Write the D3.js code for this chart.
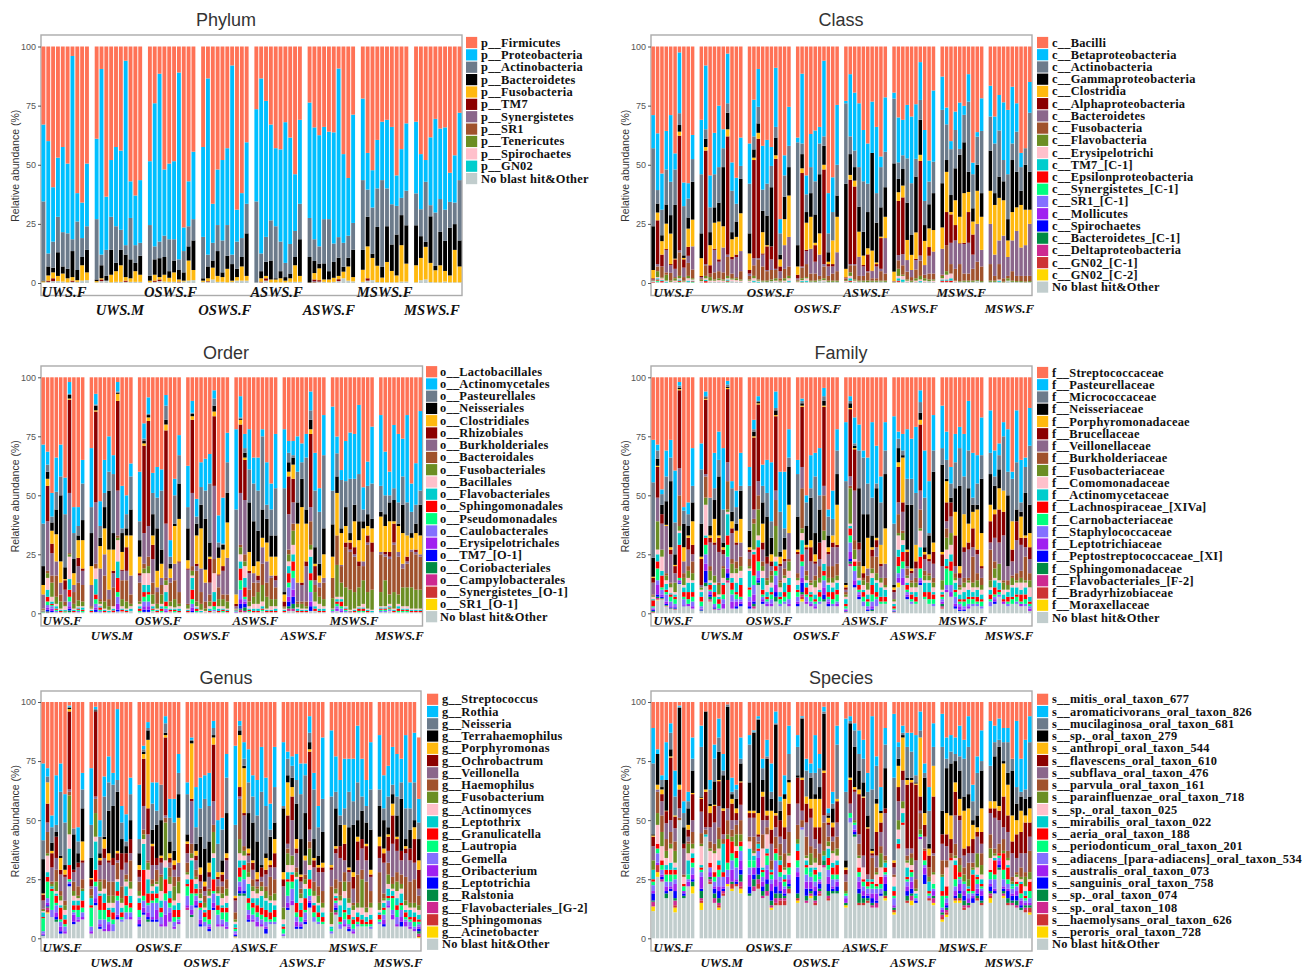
<!DOCTYPE html>
<html><head><meta charset="utf-8"><script src="https://cdn.jsdelivr.net/npm/d3@7"></script>
<style>html,body{margin:0;padding:0;background:#fff}svg{display:block}</style></head><body>
<svg id="chart" width="1314" height="970"></svg>
<script>
// Every row is one sample: the upper edge (%) of each legend band, read top-down off the y axis.
const palette=["#FF7256","#00BFFF","#6C7B8B","#000000","#FFB90F","#8B0000","#8B668B","#A0522D","#6B8E23","#FFC0CB","#00CDCD","#FF0000","#00FF7F","#8470FF","#A020F0","#0000FF","#008B45","#CD2990","#CD3333","#FFD700","#C1CDCD"];
const phylumPalette=["#FF7256","#00BFFF","#6C7B8B","#000000","#FFB90F","#8B0000","#8B668B","#A0522D","#6B8E23","#FFC0CB","#00CDCD","#C1CDCD"];
const groupNames=["UWS.F","UWS.M","OSWS.F","OSWS.F","ASWS.F","ASWS.F","MSWS.F","MSWS.F"];
const yTicks=[0,25,50,75,100];
const phylumLegend=["p__Firmicutes","p__Proteobacteria","p__Actinobacteria","p__Bacteroidetes","p__Fusobacteria","p__TM7","p__Synergistetes","p__SR1","p__Tenericutes","p__Spirochaetes","p__GN02","No blast hit&Other"];
const classLegend=["c__Bacilli","c__Betaproteobacteria","c__Actinobacteria","c__Gammaproteobacteria","c__Clostridia","c__Alphaproteobacteria","c__Bacteroidetes","c__Fusobacteria","c__Flavobacteria","c__Erysipelotrichi","c__TM7_[C-1]","c__Epsilonproteobacteria","c__Synergistetes_[C-1]","c__SR1_[C-1]","c__Mollicutes","c__Spirochaetes","c__Bacteroidetes_[C-1]","c__Deltaproteobacteria","c__GN02_[C-1]","c__GN02_[C-2]","No blast hit&Other"];
const orderLegend=["o__Lactobacillales","o__Actinomycetales","o__Pasteurellales","o__Neisseriales","o__Clostridiales","o__Rhizobiales","o__Burkholderiales","o__Bacteroidales","o__Fusobacteriales","o__Bacillales","o__Flavobacteriales","o__Sphingomonadales","o__Pseudomonadales","o__Caulobacterales","o__Erysipelotrichales","o__TM7_[O-1]","o__Coriobacteriales","o__Campylobacterales","o__Synergistetes_[O-1]","o__SR1_[O-1]","No blast hit&Other"];
const familyLegend=["f__Streptococcaceae","f__Pasteurellaceae","f__Micrococcaceae","f__Neisseriaceae","f__Porphyromonadaceae","f__Brucellaceae","f__Veillonellaceae","f__Burkholderiaceae","f__Fusobacteriaceae","f__Comomonadaceae","f__Actinomycetaceae","f__Lachnospiraceae_[XIVa]","f__Carnobacteriaceae","f__Staphylococcaceae","f__Leptotrichiaceae","f__Peptostreptococcaceae_[XI]","f__Sphingomonadaceae","f__Flavobacteriales_[F-2]","f__Bradyrhizobiaceae","f__Moraxellaceae","No blast hit&Other"];
const genusLegend=["g__Streptococcus","g__Rothia","g__Neisseria","g__Terrahaemophilus","g__Porphyromonas","g__Ochrobactrum","g__Veillonella","g__Haemophilus","g__Fusobacterium","g__Actinomyces","g__Leptothrix","g__Granulicatella","g__Lautropia","g__Gemella","g__Oribacterium","g__Leptotrichia","g__Ralstonia","g__Flavobacteriales_[G-2]","g__Sphingomonas","g__Acinetobacter","No blast hit&Other"];
const speciesLegend=["s__mitis_oral_taxon_677","s__aromaticivorans_oral_taxon_826","s__mucilaginosa_oral_taxon_681","s__sp._oral_taxon_279","s__anthropi_oral_taxon_544","s__flavescens_oral_taxon_610","s__subflava_oral_taxon_476","s__parvula_oral_taxon_161","s__parainfluenzae_oral_taxon_718","s__sp._oral_taxon_025","s__mirabilis_oral_taxon_022","s__aeria_oral_taxon_188","s__periodonticum_oral_taxon_201","s__adiacens_[para-adiacens]_oral_taxon_534","s__australis_oral_taxon_073","s__sanguinis_oral_taxon_758","s__sp._oral_taxon_074","s__sp._oral_taxon_108","s__haemolysans_oral_taxon_626","s__peroris_oral_taxon_728","No blast hit&Other"];

const phylumG1=[[100,67,34.5,1,.7,.3],[100,60,12.5,7,3.2,1,.5],[100,40.5,17.5,6.5,4.5,2,.8],[100,53,28,13,3,.8],[100,57.5,21.5,7,4,.6],[100,50.5,21,6,2,.3],[100,96,18.5,13.5,2.5,1,.5],[100,38,26,5.5,1.2,.5],[100,34,19,11,7.5,1],[100,50.5,24,14,4.5,1.2]];
const phylumG2=[[100,61,27,1.5,.8,.3],[100,90.5,12,7.5,2,1.5,.8],[100,36.5,14,3,1,1],[100,52,28,14,3.5,.3],[100,57.5,24,8.5,5,.5],[100,56,22.5,14,7.5,.5],[100,94,16,12,2.5,1,.5],[100,43,27.5,10,2,.5],[100,37,16,8.5,5,.5],[100,43.5,17,11.5,3.5,.5]];
const phylumG3=[[100,51.5,24.5,3,1,.3],[100,76,15.5,10,3.5,1,.5],[100,88.5,17.5,10.5,2.5,1.5,.8],[100,48,20,11,3.5,.6],[100,50.5,18.5,5,2.2,.5],[100,51.5,18.5,9.5,4.5,.5],[100,89,10,5.5,1.5,.6,.3],[100,23.5,13.5,4.5,1,.6],[100,43,24,15.5,9.5,1],[100,55.5,27,18,5.5,1.2]];
const phylumG4=[[100,57.5,19.5,2,1,.5],[100,86.5,12,7,2,.8,.6,.5,.4],[100,33.5,17,9.5,6.5,1.5],[100,48,24.5,13.5,3,.5],[100,52,18,4.5,2.5,.5],[100,57,24.5,11.5,6,.3],[100,92,12,8,1,.5],[100,31,17.5,6,2.5,1],[100,38,19,11,7,1],[100,59.5,33.5,21,3,1]];
const phylumG5=[[100,73.5,34.5,.2],[100,86.5,12.5,5,2,.6,.3],[100,77,19.5,9,3,2,1],[100,67,26.5,9.5,1.5,.3],[100,57,24,2,1.5,.3],[100,56.5,17.5,5,2,.3],[100,68,8.5,2.5,1,.3],[100,61.5,16.5,4,2,.5],[100,46,22,11,7.5,.5],[100,69,33.5,18.5,3,.5]];
const phylumG6=[[100,76.3,27.5,11,.2,.1],[100,65.8,18.5,9.3,4.2,1.5,.8,.4,.2,.1,.1],[100,62.5,15.5,8.2,6.2,1.2,.6],[100,66,27,8.3,1.5,.5],[100,64,27,5,1.5,.3],[100,63.7,16.7,8.9,2.2,.5],[100,90.7,19.4,10.7,3,1.6,.8],[100,54.5,17,6.9,4.8,2],[100,44.4,20,10.7,7,1],[100,71.2,25.4,14.1,2.5,.7]];
const phylumG7=[[100,78,43.5,14,5.6,.5],[100,55,39.5,28,15.5,2,1],[100,47.7,31.9,12.4,10.6,1.2],[100,60.5,40,23.7,7.3,.4],[100,68.2,43.5,6.8,2.3,.3],[100,69,40,24,8.9,.3],[100,66,33.3,16.3,5.1,.3],[100,45.5,32.6,20.5,3.2,.3],[100,56.6,36,28.7,16,.6],[100,67.5,39,24.4,8.2,.6]];
const phylumG8=[[100,68.2,37.9,24.4,7.5,.3],[100,54.5,31.2,19.8,10.6,1.2],[100,52,42.8,17.4,15.3,1.5],[100,61.6,32.9,28.2,8.5,.4],[100,69.4,29.8,7.2,5.4,.3],[100,65.3,35.5,21.6,7.5,.3],[100,65.8,31,17.8,5.1,.6],[100,46.6,34.3,23.4,3.2,.3],[100,54,34,24.9,14,.3],[100,72,43.5,18,7,.3]];

const classG1=[[100,71,57,24,5.5,2,1.5,1.2,1,.8,.6,.4,.2],[100,63.3,39.3,33.6,29.8,26.5,8,7,5,2.5,2,1.5,1,.5],[100,46.3,31,20.2,17.7,12,7,6.8,2.3,2,1.2,.8,.3],[100,64.3,48,33.2,25.1,14.4,14,4.5,3.5,1,.6,.2],[100,71,42.8,28.7,20.9,8,7.5,4.3,1,.5,.2],[100,54.8,48,33,10.3,10,6,2.5,2,1,.4],[100,97.5,71.8,66.8,64,62.3,13.8,13,3,2,1.5,1,.5,.2],[100,42.5,32.5,11.7,10.6,10,6.5,2.5,1,.6,.2],[100,42.2,35.7,27.7,23,15.3,11.5,8.5,3,2,1,.5],[100,62.6,52.4,42.8,26.8,15.5,15.5,5.7,2,1.5,1,.7,.4,.2]];
const classG2=[[100,69,46,21,10.5,3,2.5,2,1.5,.8,.4],[100,92,65,61,57.5,56,8,7.5,3,2,1.4,.8,.2],[100,45.5,32,21.5,16,7.5,4,4,2.5,1,.5],[100,63.5,46,32,25.5,14.5,14,4.5,1.5,1,.5],[100,75,49,34,26,10,9,5,2,1.2,.5],[100,65,57,49,24,15,15,4.5,1.5,1,.4],[100,97,76,72,65,62,12,11,3,2,1.5,1,.6,.3],[100,51,39,21.5,18.5,11,10,4,2,1.5,.8],[100,44.5,33.5,26,19.5,12,11,2.5,2,1.2,.6],[100,61.5,49.5,44,29.5,13.5,13.5,5,1.5,1,.5]];
const classG3=[[100,59,42,21,12.5,5.5,4,3,1.5,1,.5],[100,77.5,62,56.5,53,52,10.5,7.5,3,2,1,.5],[100,90.5,74.5,67.5,63.5,61,10.5,10,1.5,1,.6,.2],[100,58,39.5,30.5,21.5,12.5,12,7,1,.6],[100,60.5,42,28.5,16,15.5,5.5,5,1,.5],[100,57.5,49.5,40.5,15.5,15.5,10,5.5,1.5,.8],[100,91,66,61.5,54,52.5,6,5.5,2,1,.5],[100,27,21,12,10,7,5,2,1,.6],[100,54,45.5,36.5,27,16,16,6,2,1,.5],[100,74.5,58,49,37,19.5,19.5,7,3,2,1,.5]];
const classG4=[[100,61.5,59.5,16,7,3.5,2,1.5,1,.6,.2],[100,88.5,59,54.5,48.5,46.5,7,6.5,2,1.2,.8,.4,.3,.2],[100,45.5,37.5,30,25.5,14,13.5,8,2.5,2,1,.5],[100,63,49,38,28,14.5,14.5,4,1,.6],[100,64.5,43,29,17,16,9,4,1,.5],[100,66,59,46,21,12,12,3,1.5,1],[100,94,62,58,50,48,8,7,2,1.2,.8],[100,38,21,13,9,8,7,3,1,.5],[100,44.7,30,18,18,8,7,4,1,.5],[100,75.3,50,37,28,13,13,5,1,.5]];
const classG5=[[100,77,76,42,6,2.4,2,1.8,1.2,.8,.4],[100,88.3,62,54.5,45.7,43.7,8,7.5,4.5,3,2,1,.5,.3],[100,80.5,56,49,43.3,40.8,8,7.5,1.5,1,.5],[100,76,49,32.3,21.7,11.1,11,3,1,.6],[100,64.7,43,21.7,11.6,7.6,7,3,1,.5],[100,59,42,30,14.7,12.1,5,4.5,1,.4],[100,76.7,55,55,13.7,5.2,5,2,1,.5],[100,66,38,25.5,8.7,8,7,2,1,.5],[100,53.5,49,32,19.6,19,6,5,1,.6],[100,78.5,55.5,40.5,28,19,19,4,1,.5]];
const classG6=[[100,80.5,78,50.6,4.8,.8,.7,.6,.5,.3],[100,70,51,44,38.4,34.7,11.8,9.6,6,3,2,1,.5],[100,69,54,48.2,41.2,36.2,12.2,7.5,3.5,3,1.5,.5],[100,75.3,52.7,34,18.2,9.7,9.7,4.8,1.5,1,.5],[100,70.4,42.2,20.3,11.9,5.5,5.5,2.5,1,.5],[100,75.6,52.5,45,21.4,10.2,9.7,5.7,2,1,.4],[100,93.4,77.4,69,54.2,51.6,11.6,9.5,3,1.5,.8,.3],[100,64.7,34.7,24.5,17.8,7.6,7.5,3.5,2,1,.5],[100,51.8,42.9,33.3,23.1,15.2,11.5,4,1.5,.8],[100,81.4,51.3,38,22.4,13.3,13.2,4,1.5,1,.5]];
const classG7=[[100,87.3,73.2,42.2,23.5,14.5,14.5,3.5,3,2,1.5,1,.5],[100,74.2,67.1,52,47,30,16,16,5,3.5,1.5,1,.5],[100,60,56.6,37.2,30,29,17,8,4,4,2,1,.4],[100,72.5,64.7,48.5,35,24.5,18,6,1,.8,.4],[100,76.3,56.7,54.2,28,16.8,16.5,8,.8,.5],[100,74.9,71.1,59.5,38,17,16.5,4,1,.5],[100,88.3,76.7,47,38.5,30,17,4,1,.5],[100,50.9,46,31.6,26,20.5,12,6,1,.5],[100,63.8,61.9,50,39,25,25,9,1.2,.8],[100,78.1,64.3,38,28,14,14,7,.8,.4]];
const classG8=[[100,83.4,70.4,56,39,25,25,8,1,.5],[100,70.4,59,38,33,12,12,3,1,.5],[100,79.5,64.5,45,36,18,18,8,1.5,1.5,1,.5],[100,76.4,52,43,35,20,20,2,.6,.3],[100,73.2,46,27,18,11,11,3,2,1],[100,83,59,52,30,18,18,5,1,.5],[100,76,64,47,32,22,22,3,.8,.4],[100,55,49,39,33,15,15,3,.8,.4],[100,57,57,50,31,16,16,3,.6,.3],[100,85,72,47,31,25,25,3,.8,.4]];

const orderG1=[[100,71.5,38,20,12,8,8,2,1.5,1.2,1,.8,.5,.3],[100,68.5,63,60,57,54,39,18,17,15,10,7,5,3.5,2.5,1.5,.8,.4,.2],[100,51,41,38.5,35,29.5,25.5,16,13,7,5,4,3.5,3,2,1,.5],[100,66,51.5,44,33.5,22,22,16,7,4,3,2,1.5,1,.5],[100,71.5,58,50,22,13,13,8,5,2,1.5,1,.5],[100,57.5,42,19.5,14.5,14,10,5,3.5,3,1.5,1,.8,.4],[100,98,93,92.5,91,90.5,51,25.5,25,24,14.5,10,7,5,3,2,1.2,.5],[100,45,34,23,17,12,12,9,4,2,1.5,1,.5],[100,45,37,33,31,23.5,20,13,5.5,3,2.5,2,1.5,1,.5],[100,65,55,39.5,31,19,18,12,5,3,2.5,1.5,1,.5]];
const orderG2=[[100,70,45,34,20,12,12,3,2.5,2,1.5,1,.5],[100,93,88.5,88,86,85.5,47,21,19,19,14.5,8,6,4,2.5,1.5,.6],[100,47.5,37,32,28.5,19,19,6,5,4,3,2.5,1.5,1,.5],[100,65,51,45,36,25,25,16,5,2,1.5,1,.5],[100,75,60,52,27,10,10,6,3,1.5,1,.5],[100,67,59,34,27,18,17,11,3,3,2,1.2,.5],[100,98,94,93.5,93,90,52,33,32,31,22,15,9,7,4,1.5,.8],[100,54,36,34,26,18.5,18,14,6,3,2,1.5,.8],[100,50,42,36,33,28,18,14,5,2,1.5,1,.5],[100,63.5,58,44,33,16,16,8,4,3,2,1]];
const orderG3=[[100,60,39,31,24,17,16,13,5,4,3,2,1,.5],[100,80.5,74,73,72,71,34,21,19,17,12,9,7,5,3,1.5,.6],[100,91.5,84.5,84,83,81.5,37,24,20,17,12,9,8,5,3,1.5,.6],[100,59.5,51,42,33,29,23,13,8,4,3,2,1.5,1],[100,62,49,36,18,11,11,9,4,2,1.5,1,.5],[100,61,52,27,21,15,15,12,8,4,3,2,1,.5],[100,92.5,88,82,80,77.5,38,15,14,12,9,5,3,2,1,.5],[100,31,24,21,19,15,15,13,5,3,2,1.5,.8],[100,57,50,38,37,21,21,14,6,2.5,2,1.5,1,.5],[100,75.5,67,55,40,22,21.5,9,4,3,2,1,.5]];
const orderG4=[[100,62.5,45,36,22.5,19,18.5,4,3.5,2,1.5,1,.5],[100,90,85,84.5,83.5,82,51,20,18,16,15,10,6,4,2.5,1,.5],[100,48.5,41,38,33,21,20,18,5,3,2.5,2,1,.5],[100,64,53.5,46,36,19,19,9,4,1.5,1,.5],[100,65.5,52,40,18.5,13,13,5,2,1,.5],[100,67.5,55,30,24,23,13,8,5,3,2,1,.5],[100,94.5,91,88,85.5,83.5,54,23,17,17,9,5,3,1.5,1],[100,41.5,30,28,23.5,16.5,16,11,6,3,2,1,.5],[100,49,29.5,29,27,20,18,8,6,3,2,1.5,1,.5],[100,76.5,64,51,38.5,23.5,23.5,8,5,2,1.5,1,.5]];
const orderG5=[[100,78,44,8,8,4,3,2,1.8,1.6,1.4,1.2,1,.8,.5,.3],[100,92,83,82.5,82,80,51,29,28,25,22,19,14,10,6,4,2,1.5,1,.5],[100,76,70,68,66,65,48,25,22,20,15,11,7,6,5,4,2.5,1,.5],[100,78,61,47,26,18,17,10,5,3,2,1.5,1,.5],[100,66,55,39,20,17,17,13,7,4,2,1,.5],[100,66,52,35,22,16,14,13,9,4,2,1,.5],[100,78,75,44,32,28,28,21,12,5,3,2,1.5,1],[100,64,46,40,30,22,22,13,7,2,1.5,1,.5],[100,55,44,33,24,16,16,15,6,3,1.5,1,.5],[100,76,53,33,24,16,14,11,6,3,2,1,.5]];
const orderG6=[[100,78,53,9,8,5,3,3,2.5,2,1.5,1,.5],[100,73,68,64,60,58,42,27,25,22,20,17,13,11,7,5,3,2,1],[100,73,67,66,63,57,47,38,35,29,25,22,18,15,10,7,4,2,1],[100,75,60,47,38,13,13,5,4,2.5,2,1,.5],[100,72,64,57,45,13,12,5,4,2,1.5,1,.5],[100,76,66,44,38,22,20,5,3,2,1.5,1,.5],[100,94,86,82,78,76,45,39,29,27,24,17,14,9,5,3,1],[100,68,52,28,21,20,14,12,9,5,3,2,1],[100,53,43,21,16,13,13,11,7,4,2,1,.5],[100,84,67,36,25,15,15,13,6,3,2,1,.5]];
const orderG7=[[100,87.6,52,37.7,24,15,15,15,6.4,2,1.8,1.6,1.4,1,.8,.5],[100,74.9,67.8,58,51,33,33,33,20.5,7,6,5,4,3,2,1],[100,60.7,56.5,36,34,20.5,20.5,20,13,7,6,5,3,2,1,.5],[100,73,56,45,37,30,28,28,11,3,2.5,2,1.5,1,.5],[100,76.6,57,34,31,30,27,26,10,1.5,1,.8,.5],[100,76,57,46,39,28,25,24,9,2,1.5,1,.5],[100,88.3,59,39,31,22,20,20,11,3,2.5,2,1,.5],[100,53.4,44,39,36,22,22,20,14,4,2.5,2,1,.5],[100,64.3,54,42,37,33,30,29,9,2,1.5,1,.5],[100,79.1,55,40,36,30,26,26,10,1.5,1,.5]];
const orderG8=[[100,84,54,43,41,26,26,25,9,3,2.5,2,1.5,1,.5],[100,68.5,50,42,37,26,25,24,14,3,2.5,2,1.5,1,.5],[100,60,50,47,39,26,24,23,8,4,3,2.5,2,1.5,1],[100,79.8,53,48,39,38,30,29,9,2,1.5,1,.5],[100,76,47,38,37,26,26,24,8,4,3,2,1,.5],[100,74,58,46,34,21,21,19,11,3,2,1.5,1,.5],[100,84,47,33,33,24,22,21,11,3,2,1.5,1,.5],[100,55,43,34,32,27,27,26,11,2,1.5,1,.5],[100,63.6,46,38,34,27,26,25,10,2,1.5,1,.5],[100,85.7,52,46,33,25,25,24,10,2,1.5,1,.5]];

const familyG1=[[100,73.5,55.5,23.5,15.5,15,13,8,7.5,7,6,5.5,3,2.5,2,1.5,1,.6,.4,.2,.1],[100,71.5,69,65.5,62.5,62,49,39,39,27,25,22,19,14,12,8,7,6.5,6,5.8,5.5],[100,52.5,50.5,46,42,42,38,27,27,24,18,16,11,10,8,7,6.5,6.2,6,5.9,5.8],[100,69,58,47.5,37.5,37,37,17,16,14,12.5,10,9,8,5,4,3.5,3.2,3,2.9,2.8],[100,73.5,66,56,28,27,25,13,12.5,11,8.5,8,7,5,3,2.5,2.2,2,1.9,1.8],[100,60.5,38.5,25,20.5,20,17,13,13,9,8,7,6,4,3,2.5,2,1.8,1.7,1.5],[100,98,96.5,95.5,95,94.5,61.5,50,37,35,34,29,15,14,14,13,12.5,12.5,12.5,12.5,12.5],[100,45,43.5,38,28,22,22,17,15,12,11,9,7,6,3.5,3.2,3,3,3,3],[100,47,42,37,33,32,27,20,18,15,13,9,6,4,4,3,3,3,3,3],[100,70,54,47,39,29,25,22,17,14,13,9,7,5,3,2,2,2,2,2,2]];
const familyG2=[[100,72,61,38,24,23,12,11,11,10,9,7,5,3,2,1.5,1.2,1,1,1,1],[100,94,92,91.5,91,90.5,59,58,49,46,33,32,29,25,21,18,13,11.5,11.5,11.5,11.5],[100,49,49,37,33,32,30,20,18,14,13,12,10,9.5,9,8,7,6,5.5,5,5],[100,68,53,48,40,30,29,16,16,13,12,9,7,4,3,2.5,2,1.8,1.6,1.5,1.5],[100,77,65,58,33,32,26,13,12,8,7,6,4,2,2,1.5,1.5,1.5,1.5,1.5],[100,70,44,30,28,27,25,20,19,15,13,12,8,6,4,2,2,2,2,2],[100,98.5,97,96,95.5,95,64,56,44,43,42,33,29,24,19,17,15,14,13,13,13],[100,56,53,43,39,36,34,23,21,17,15,13,10,8,5,2,2,2,2,2],[100,52,45,38,35,30,29,22,19,17,13,9,8,6,5,3,2,2,2,2],[100,68,54,52,40,30,30,24,20,18,15,12,7,6,5,4,3,3,3,3]];
const familyG3=[[100,62,54,35,28,27,26,23,20,19,18,11,10,7,5,3,2,2,2,2],[100,82,78,77,75,74.5,44,40,38,27,26,25,16,12,8,5,4,3,2,2,2],[100,92,90,89.5,89,88.5,56,50,44,33,31,28,22,18,15,14,13,12,12,12,12],[100,63,54,47,38,30,27,22,20,18,15,10,8,7,6,5,4,4,4,4],[100,65,51,41,24,24,21,15,14,12,9,7,6,5,4,3,3,3,3,3],[100,64,39,32,25,22,20,18,16,13,11,9,8,6,4,3,3,3,3,3],[100,94,87,86,84,83.5,52,48,37,24,22,20,18,16,12,9,7,5,5,5,5],[100,60,43,26,24,21,20,14,13,11,9,7,6,4,3,3,3,3,3,3],[100,60,36,32,27,23,22,19,16,15,13,9,7,5,4,4,4,4,4,4],[100,78,66,62,46,34,34,23,22,18,15,12,9,6,4,3,3,3,3,3]];
const familyG4=[[100,65,59,41,27,26,25,17,15,14,12,10,9,7,5,4,3,3,3,3],[100,91,90,89,88,87.5,62,53,36,34,31,25,22,20,15,13,9,8,7,6,5],[100,50,47,37,29,28,27,18,16,14,13,11,8,7,5,4,4,4,4,4],[100,67,53,49,31,28,22,14,13,12,9,8,7,5,4,3,3,3,3,3],[100,68,58,34,25,22,21,16,14,11,8,6,5,4,3,2,2,2,2,2],[100,70,50,44,30,30,23,20,15,13,10,9,7,5,4,4,4,4,4,4],[100,95.5,92,90,88,87.5,54,50,35,31,21,18,16,14,11,8,6,5,5,5,5],[100,44,41,33,28,26,25,20,15,13,12,9,7,6,5,4,3,3,3,3],[100,52,40,33,33,30,28,20,15,13,11,9,6,4,3,3,3,3,3,3],[100,78,69,59,46,29,28,21,16,14,13,10,8,5,4,3,3,3,3,3]];
const familyG5=[[100,81,56,13,12,11,10,9,8,7,6,4,3,2,1.5,1,.8,.6,.5,.4],[100,92,90,89,87,86.5,58,54,53,38,37,36,33,30,26,23,22,21,20,20,20],[100,83,72,71,70,69.5,52,31,27,23,22,22,20,18,14,12,11,11,11,11],[100,80,69,53,30,30,27,22,20,15,14,12,10,9,8,7,6,6,6,6],[100,69,66,42,20,17,15,15,14,12,10,9,7,5,3,3,3,3,3,3],[100,66,55,42,32,19,19,16,13,10,8,6,5,3,2,1.5,1,1,1,1],[100,81,49,33,28,27,24,24,19,17,15,12,8,5,3,2,1.5,1,1,1],[100,71,55,53,32,31,28,24,17,14,13,9,7,6,3,3,3,3,3,3],[100,58,47,29,29,21,20,15,15,13,11,7,5,4,4,4,4,4,4,4],[100,81,69,59,36,21,21,15,12,11,10,7,5,4,4,4,4,4,4,4]];
const familyG6=[[100,83.5,38,12,11,10,9,6,6,5,4,3,2,1.5,1.2,1,.8,.6,.5,.4],[100,77,74,70,64,62,47,42,34,33,27,24,20,17,15,13,13,13,13,13,11],[100,76,69,67,66,47,43,35,34,31,29,26,22,19,15,12,12,12,12,12],[100,78,57,46,27,26,20,19,16,15,13,12,10,9,8,7,6,6,6,6],[100,74,57,46,19,18,17,14,13,11,9,8,6,5,4,4,4,4,4,4],[100,79,51,29,29,22,19,15,13,11,9,7,5,4,4,4,4,4,4,4],[100,94.5,89.5,85,82,80,52,44,36,35,28,24,19,15,14,13,12,12,12,12],[100,69,49,28,26,25,23,18,16,14,13,9,7,6,6,6,6,6,6,6],[100,56,34,33,25,23,22,17,16,14,13,9,6,4,4,4,4,4,4,4],[100,84,69,60,30,26,21,15,13,11,9,8,6,4,3,3,3,3,3,3]];
const familyG7=[[100,88,70,63,26,25,20,14,14,10,9,8,7,6,5,4,4,3,2.5,2],[100,77,65,57,56,47,39,36,32,27,23,20,19,12,10,9,9,9,9,9],[100,62,55,49,47,47,41,34,34,29,25,22,18,12,9,7,7,7,7,7],[100,76,64,53,43,33,20,17,15,14,13,10,9,7,4,3,2,2,2,2],[100,79,70,54,20,17,15,12,11,10,8,6,5,4,3,1.5,1,1,1,1],[100,76,58,42,42,28,26,15,13,11,9,6,5,3,2,1.5,1,1,1,1],[100,90,69,53,38,30,27,15,14,13,10,7,6,4,3,2,2,2,2,2],[100,68,49,46,43,36,28,24,13,11,9,7,6,4,3,3,3,3,3,3],[100,67,55,46,44,27,25,17,14,11,10,7,5,4,3,3,3,3,3,3],[100,83,67,57,34,20,19,15,12,10,8,6,5,3,2,2,2,2,2,2]];
const familyG8=[[100,86,68,59,46,39,30,27,14,11,10,8,6,5,3,3,3,3,3,3],[100,69,58,54,44,42,32,22,19,15,14,11,8,7,6,5,4,4,4,4],[100,72,67,61,53,44,30,21,21,14,13,10,9,8,7,7,7,7,7,7],[100,81,75,52,52,43,33,14,13,10,8,6,5,5,5,4,4,4,4,4],[100,78,60,50,20,20,20,14,12,10,9,7,5,4,3,3,3,3,3,3],[100,60,57,39,39,27,22,16,15,12,11,7,6,4,4,4,4,4,4,4],[100,86,64,44,39,39,31,17,14,13,11,8,7,5,4,4,4,4,4,4],[100,65,47,43,41,32,29,18,15,13,10,8,5,4,4,3,3,3,3,3],[100,66,62,51,33,32,28,24,14,13,11,8,6,4,3,3,3,3,3,3],[100,87,71,46,34,28,23,17,14,11,7,5,4,3,2,1,1,1,1,1]];

const genusG1=[[100,74,41.5,33.5,19,18.5,16,12.5,12,11.5,11,9,8.5,3,2,1.5,1.2,1,1,1,1],[100,72,68.5,66,66,57,49,45,36,35,28,26,24,17,15,14,13.5,13,12,11,10.5],[100,52,47,40.5,37,36,30,24,23,22,22,21,20,12,9,9,9,9,9,9,9],[100,69,48,45,43,43,34,29,24,20,19,18,15,14,11,9,8,7,7,7,7],[100,74,62,35,34,29,27,20,18,16,14,13,8,7,5,3,2,2,2,2,2],[100,61,49,31,29,27,26,16,14,12,10,8,6,5,3,2,2,2,2,2,2],[100,98.5,98,97.5,97,96,63,62,60.5,44,38,31,25,24,23,23,22,22,22,22,22],[100,46.5,46.5,44,29,29,28,24,20,18,16,14,12,11,10,7,6,6,6,6,6],[100,47,41,36,32,32,30,22,18,17,16,14,12,9,8,7,7,7,7,7,7],[100,70,63,55,41,33,32,25,21,20,20,16,13,11,9,8,8,8,8,8,8]];
const genusG2=[[100,72,48,34,25.5,25,22,21,18,17,17,14,13,5,3,2,2,2,2,2,2],[100,98,97,96.5,96,96,60,59,53,43,41,29,24,22,17,15,14,14,14,14,14],[100,50,43,36,34,33,31,25,24,20,19,18,12,8,6,5,4,4,4,4,4],[100,68.5,60,43,42,38,34,25,21,21,19,15,12,8,4,3,3,3,3,3,3],[100,77,66,54,36,33,32,24,18,15,13,12,9,7,6,3,3,3,3,3,3],[100,70,65,56,34,34,31,24,18,15,13,11,8,6,3,3,3,3,3,3],[100,97,67,62,37,36,33,32,25,25,24,20,18,16,10,9,8,8,8,8,8],[100,56,49,42,36,36,29,22,17,15,13,11,9,8,7,7,7,7,7,7,7],[100,52.5,41,39,36,36,32,27,25,24,22,18,14,11,8,8,8,8,8,8,8],[100,68,61,50,42,42,36,33,24,21,18,15,13,11,9,8,8,8,8,8,8]];
const genusG3=[[100,65,42,36,31,29,26,24,20,18,17,15,12,9,8,6,5,5,5,5,5],[100,81.5,80,79,78,76,56,46,44,42,40,29,18,16,13,11,10,10,10,10,10],[100,91.5,89,88,84,55,44,33,32,29,25,19,15,14,11,9,8,7,7,7,7],[100,66,57,46,40,39,31,25,23,22,20,19,16,15,9,8,7,7,7,7,7],[100,66,54,48,34,34,31,29,24,23,22,19,17,15,12,8,7,7,7,7,7],[100,65,65,50,35,34,32,27,26,20,16,13,11,9,6,5,5,5,5,5,5],[100,94,91,87,86,85,52,51,49,33,30,25,19,16,10,5,5,5,5,5,5],[100,59,51,41,36,34,32,30,26,23,20,17,15,13,11,7,7,7,7,7,7],[100,59,49,37,33,31,29,26,22,16,14,12,9,7,5,4,4,4,4,4,4],[100,78,70,61,51,32,32,26,24,19,15,12,9,8,7,6,6,6,6,6,6]];
const genusG4=[[100,66,61,44,41,40,36,32,28,27,25,23,22,18,14,13,13,13,12,12,12],[100,85,84,83.5,82.5,59,58,40,36,34,33,25,19,14,12,10,10,9,9,9,9],[100,64,47,40,37,35,33,29,26,25,23,21,19,18,16,14,13,13,13,13,13],[100,68,55,43,30,27,24,21,19,17,16,15,13,12,8,6,5,5,5,5,5],[100,69,59,38,24,22,20,18,15,13,12,11,9,7,5,5,5,5,5,5,5],[100,70,56,41,32,28,26,21,20,18,17,12,8,6,5,4,3,3,3,3,3],[100,92,89,86,85,82,58,48,45,36,34,25,20,19,15,13,12,12,12,12,12],[100,50,40,28,28,26,25,22,20,19,18,14,12,10,6,5,5,5,5,5,5],[100,51,46,33,28,27,24,22,19,17,14,13,11,8,6,5,5,5,5,5,5],[100,78,68,53,36,34,33,25,21,18,15,13,11,7,5,4,4,4,4,4,4]];
const genusG5=[[100,81.5,48,18,18,17,16,11,8,7,6,4.5,4,3,2,1.5,1,.8,.6,.5,.4],[100,92,90,88,86,64,60,59,42,36,33,30,26,24,22,20,19,18,18,18,18],[100,83,76,73,72,53,52,39,37,35,33,31,29,25,20,20,19,18,18,18,18],[100,80,66,53,38,36,35,32,28,26,23,17,15,12,10,8,7,7,7,7,7],[100,69,60,49,33,32,29,25,22,20,17,15,13,10,8,7,7,7,7,7,7],[100,67,52,41,28,25,24,22,21,19,17,14,11,9,7,5,5,5,5,5,5],[100,81,62,31,30,30,26,24,22,20,18,13,10,8,6,5,5,5,5,5,5],[100,68,56,36,34,29,27,22,20,17,16,12,9,7,5,4,2,2,2,2,2],[100,57,46,43,33,31,30,26,18,16,15,11,8,7,6,6,6,6,6,6,6],[100,81,64,49,42,36,30,25,19,16,14,12,9,7,6,6,6,6,6,6,6]];
const genusG6=[[100,83,56,55,28,25,22,13,13,8,6,5,4,2,1.5,1.2,1,1,1,1,1],[100,79,76,69,66,52,40,38,36,31,28,25,24,18,15,13,12,12,12,12,12],[100,77,73,68,64,60,50,35,35,31,28,27,24,21,16,14,14,14,14,14,14],[100,78,67,57,42,38,36,30,28,26,25,15,11,9,7,5,4,4,4,4,4],[100,74,61,42,27,26,24,21,19,17,15,12,9,7,6,5,4,4,4,4,4],[100,74,69,53,35,33,33,27,25,23,21,17,12,11,8,7,6,6,6,6,6],[100,94,87,83,80,79,46,41,38,31,29,25,21,18,16,15,13,13,13,13,13],[100,70,63,42,34,33,30,24,20,18,15,14,11,9,7,7,7,7,7,7,7],[100,56,47,35,31,30,28,22,18,15,14,11,9,7,6,6,6,6,6,6,6],[100,85,59,45,32,30,28,20,15,13,11,9,7,6,6,6,6,6,6,6,6]];
const genusG7=[[100,88,60,31,31,30,29,22,11,6,5,4,4,3,2,2,2,2,2,2,2],[100,77,62,55,39,38,36,25,21,19,18,17,16,15,14,13,12,11,10,10,10],[100,67,52,48,39,39,34,24,18,16,14,9,7,6,4,4,4,4,4,4,4],[100,76,55,48,48,40,33,28,24,20,17,12,11,8,6,5,5,5,5,5,5],[100,76,62,47,30,29,28,24,17,15,13,10,8,6,5,4,3,3,3,3,3],[100,76,58,48,28,26,21,15,14,12,9,8,6,4,3,2,2,2,2,2,2],[100,90,66,50,43,41,33,27,15,13,11,9,7,6,5,5,5,5,5,5,5],[100,76,60,54,42,42,38,29,25,13,10,8,6,5,5,5,5,5,5,5,5],[100,67,56,49,40,39,33,24,13,11,9,7,6,5,5,5,5,5,5,5,5],[100,83,63,46,29,27,26,20,15,13,10,8,6,5,4,4,4,4,4,4,4]];
const genusG8=[[100,86,63,56,43,39,34,28,15,12,11,10,8,7,6,6,6,6,6,6,6],[100,69,55,50,38,36,32,19,17,16,15,13,12,10,8,6,5,5,5,5,5],[100,73,60,47,44,43,37,32,27,23,21,18,17,16,14,13,13,13,13,13,13],[100,81,65,61,57,52,40,26,23,21,20,18,17,12,10,8,8,8,8,8,8],[100,78,60,52,43,42,37,28,24,20,17,14,12,9,6,5,5,5,5,5,5],[100,76,66,59,37,37,33,27,23,21,19,15,14,12,9,7,5,5,5,5,5],[100,86,55,42,39,38,36,26,16,14,12,11,9,8,7,5,5,5,5,5,5],[100,66,55,46,38,38,33,24,15,13,12,9,8,7,5,4,4,4,4,4,4],[100,87,66,50,47,42,32,25,15,13,11,9,7,5,4,3,3,3,3,3,3],[85,59,49,42,33,29,21,18,14,12,10,8,7,6,5,4,3,2,1,.5,.2]];

const speciesG1=[[100,89,74,44,43.5,43,39,33,33,29,29,25,24,22.5,20,19,16,15.5,13.5,13.5,11.5],[100,80,78,78,65,63,63,62,53,48,40,40,38,36,32,31,31,31,31,28,26],[100,69,67,64,63,61,58,52,45,39,33,33,31,29,27,26,25,25,24,24,24],[100,83,67,67,54,53.8,48.7,42,37,34,31,29,27,24,22,20,19,17,17,17,17],[100,91,87,80,77,76.5,50,45,40,38,32,29,27,24,22,21,20,20,20,20,20],[100,71,60,52,52,51.5,46.6,41,37,32,30,29,27,25,23,20,17,16,14,13,11],[100,98.5,98,97.5,65,63,55,51,50,50,50,50,50,50,50,50,50,50,50,50,50],[100,58,53,47,40,40,38,27,26,26,23,23,22,20,20,19,18,17,17,17,17],[100,62,58,55,48,46,43,41,40,36,33,27,27,25,24,22,22,22,22,22,22],[100,85,76,71,61.5,61,50,45,40,38,36,34,32,30,27,25,24,22,22,22,19]];
const speciesG2=[[100,90,81,60,59.5,59,53.6,44.5,40,39,31,30,29,28,26,21,20,17,16,15,12],[100,96,96,96,63,62,47,46,44,44,44,43,43,43,43,43,43,43,43,43,43],[100,67,63,57,56,53,47,41,38,37,32,32,30,30,28,26,26,25,24,23,23],[100,82,76,66.4,56.5,56,49,40,37,36,28,28,26,24,22,21,19,17,15,15,15],[100,93,85,79,67,66.5,56,47,42,38,33,31,29,26,22,20,17,15,14,13,12],[100,78,71,69,55,54,44,42,40,40,40,28,26,26,22,21,20,20,19,18,18],[100,99,99,98,67,67,55,50,44,42,42,42,32,29,26,23,23,23,23,23,22],[100,68,62,61,59,57,50,46,43,41,41,41,36,33,29,24,24,23,23,21,20],[100,65,63,59,55,53,50,48,44,39,37,37,34,30,25,24,23,23,23,22,22],[100,85,76,74,66.4,66,56.5,50,44,41,41,41,39,37,33,29,27,24,22,21,19]];
const speciesG3=[[100,86,82,66,54,53,51,43,41,41,38,33,33,30,27,22,19,18,18,18,18],[100,88,87.5,87,54,53,51,43,37,36,35,33,33,30,30,27,25,22,20,20,20],[100,94,93,92.5,53,44,43,41,40,40,40,38,37,37,34,30,27,25,23,21,21],[100,76,72,67,62,60,50,44,38,38,30,29,28,26,24,22,20,18,17,17,17],[100,84,77,76,54,52,50,47,44,44,38,36,35,31,29,25,23,20,18,18,18],[100,74,62,59,54,46,40,33,29,29,29,28,27,25,23,20,16,14,13,13,12],[100,96,91,90.5,53,52,47,43,38,38,38,38,36,33,25,22,19,17,15,14,14],[100,60,58,54,50,50,43,40,35,33,33,31,28,26,24,20,19,17,16,14,14],[100,69,61,61,59,47,42,36,30,29,27,25,24,22,21,19,18,17,16,14,14],[100,90,78,67,66,57,52,45,36,35,32,32,30,27,25,23,22,21,21,19,19]];
const speciesG4=[[100,86,81,69,68,68,57,48,42,40,40,37,33,30,28,26,19,17,17,16,15],[100,94,93.5,93,68,67,54,50,47,47,47,47,47,47,46,46,46,46,46,46,46],[100,76,71,60,60,57,49,43,35,34,33,31,30,27,24,21,18,16,15,15,15],[100,74,70,68,59,55,51,39,36,31,30,28,28,26,24,21,20,19,18,18,17],[100,86,70,61,59,47,42,38,34,32,30,29,27,24,22,20,18,16,15,14,14],[100,78,72,64,59,47,40,36,31,31,28,26,26,25,24,23,21,20,19,18,18],[100,98,96,95,71,70,52,49,37,35,35,33,33,33,33,33,33,31,30,30,30],[100,55,53,52,51,49,48,43,41,39,38,34,31,29,26,23,20,18,17,16,16],[100,62,57,55,49,47,43,41,37,36,32,30,27,25,22,21,20,19,19,19,19],[100,90,82,59,59,58,49,43,38,35,33,31,27,25,24,22,20,19,19,19,19]];
const speciesG5=[[100,93,62,33,30,29,27,24,20,19,19,19,19,18,17,15,15,14,14,14,13],[100,94,92,91,68,67,57,53,53,53,53,53,53,51,49,49,49,49,49,49,49],[100,91,88,81,64,63,62,50,50,49,49,49,49,48,46,45,44,43,43,43,43],[100,88,78,71,63,61,44,40,35,34,30,30,28,26,24,21,19,15,15,14,14],[100,84,76,66,60,59.5,35,30,30,30,25,25,24,22,20,18,17,15,15,14,14],[100,70,62,52,47,46.5,27,25,25,25,25,24,22,21,19,18,17,16,16,15,15],[100,94,63,38,37,36,35,34,25,25,25,24,23,21,19,17,15,14,13,13,13],[100,77,73,59,57,45,35,30,28,27,23,23,22,21,19,16,15,15,13,13,13],[100,64,54,54,53,49,45,39,36,30,26,26,23,21,19,19,18,18,18,18,18],[100,89,82,72,55,55,53,35,33,32,32,30,28,27,26,23,20,18,18,17,16]];
const speciesG6=[[100,95,68,33,33,32,30,27,26,26,22,20,18,17,14,13,13,12,12,11,10],[100,83,81,76,73,64,58,50,50,46,42,40,38,38,38,38,38,38,38,38,38],[100,90,87,86,85,71,67,58,58,55,53,49,48,48,48,48,48,48,48,48,48],[100,87,81,68,67,65,38,35,33,32,30,26,25,24,22,20,18,16,16,15,15],[100,87,79,68,67,66,38,36,34,31,29,29,28,26,24,21,19,18,16,16,14],[100,86,69,66,65.5,65,33,25,21,20,19,18,18,17,16,16,15,15,15,15,15],[100,96,88,85,85,60,54,53,46,44,44,44,44,43,43,42,42,42,42,42,42],[100,74,70,68,53,48,43,38,37,37,37,37,33,31,30,27,23,23,23,23,23],[100,64,54,40,38,35,30,30,26,24,24,20,19,18,17,17,17,17,17,16,16],[100,91,81,73,73,60,36,35,28,27,23,23,23,21,20,18,18,17,15,15,14]];
const speciesG7=[[100,95,81,54,44,44,40,33,27,26,26,20,18,13,12,11,11,10,9,8,7],[100,85,76,72,53,44,39,33,30,30,22,22,18,17,15,14,13,12,11,10,9],[100,86,79,74,52,42,36,36,34,34,34,34,33,33,33,33,33,33,33,33,33],[100,85,78,75,66,62,52,40,35,34,33,31,25,22,20,18,17,17,17,16,15],[100,90,77,71,59,52,50,34,31,28,28,28,26,25,23,20,19,17,17,16,15],[100,84,76,60,54,38,35,30,27,24,24,24,24,23,20,18,16,14,13,12,12],[100,94,81,61,55,39,36,32,25,22,22,21,20,19,17,15,15,14,13,13,13],[100,65,58,50,48,42,36,32,30,29,29,27,20,19,18,17,15,15,15,15,15],[100,77,70,52,47,45,43,36,36,30,27,26,25,23,21,19,18,17,17,16,16],[100,88,75,71,55,45,40,36,31,27,25,23,22,21,20,18,16,15,15,14,14]];
const speciesG8=[[100,92,73,58,58,55,53,44,38,34,29,29,28,25,23,22,20,19,18,17,15],[100,90,83,77,58,55,51,38,36,35,34,33,27,25,21,20,19,19,19,19,19],[100,93,84,81,56,54,50,40,36,36,36,36,35,34,33,31,30,29,29,29,29],[100,89,83,75,74,60,47,42,37,36,36,36,29,25,22,21,20,19,18,18,17],[100,89,83,70,65,52,45,37,34,33,31,30,25,23,21,20,17,15,15,14,14],[100,76,76,71,52,41,36,26,24,23,23,22,22,21,19,18,16,15,14,14,14],[100,92,64,57,50,44,34,28,27,26,24,24,23,22,20,18,16,14,13,13,13],[100,76,62,60,54,45,36,30,26,25,24,23,19,17,16,14,13,12,12,12,12],[100,84,63,59,52,49,36,28,26,22,20,18,17,16,15,14,14,13,12,11,11],[100,94,83,60,55,49,43,37,28,25,24,24,20,17,15,14,14,13,13,11,10]];

// layout of each panel: frame box, y scale end points, legend and label placement
const panels=[
{title:"Phylum",legend:phylumLegend,colors:phylumPalette,groups:[phylumG1,phylumG2,phylumG3,phylumG4,phylumG5,phylumG6,phylumG7,phylumG8],x0:41,x1:462,top:35,bottom:295.5,y100:46.5,y0:283,titleX:226,titleY:26,swatchX:466,textX:481,legendY:42.5,legendStep:12.37,yLabX:19,labelSize:14.6,row1:297,row2:315,off:[0,1,-4,-3,-4,-5,-4,-10]},
{title:"Class",legend:classLegend,colors:palette,groups:[classG1,classG2,classG3,classG4,classG5,classG6,classG7,classG8],x0:651,x1:1032,top:35,bottom:295.5,y100:46.5,y0:283,titleX:841,titleY:26,swatchX:1037,textX:1052,legendY:42.5,legendStep:12.23,yLabX:629,labelSize:13,row1:297,row2:313,off:[2,1,-1,-2,-1,-1,-4,-4]},
{title:"Order",legend:orderLegend,colors:palette,groups:[orderG1,orderG2,orderG3,orderG4,orderG5,orderG6,orderG7,orderG8],x0:41,x1:422.5,top:366,bottom:626,y100:377.3,y0:613.3,titleX:226,titleY:359,swatchX:426,textX:440,legendY:371.7,legendStep:12.25,yLabX:19,labelSize:12.8,row1:625,row2:640,off:[1,1,-3,-3,-2,-2,-1,-4]},
{title:"Family",legend:familyLegend,colors:palette,groups:[familyG1,familyG2,familyG3,familyG4,familyG5,familyG6,familyG7,familyG8],x0:651,x1:1032,top:366,bottom:626,y100:377.3,y0:613.3,titleX:841,titleY:359,swatchX:1037,textX:1052,legendY:372.5,legendStep:12.25,yLabX:629,labelSize:12.8,row1:625,row2:640,off:[2,1,-2,-3,-2,-2,-2,-4]},
{title:"Genus",legend:genusLegend,colors:palette,groups:[genusG1,genusG2,genusG3,genusG4,genusG5,genusG6,genusG7,genusG8],x0:41,x1:421,top:691,bottom:951,y100:702,y0:938.3,titleX:226,titleY:684,swatchX:427,textX:442,legendY:699.3,legendStep:12.25,yLabX:19,labelSize:12.8,row1:952,row2:967,off:[1,1,-2,-2,-2,-2,-1,-4]},
{title:"Species",legend:speciesLegend,colors:palette,groups:[speciesG1,speciesG2,speciesG3,speciesG4,speciesG5,speciesG6,speciesG7,speciesG8],x0:651,x1:1032,top:691,bottom:951,y100:702,y0:938.3,titleX:841,titleY:684,swatchX:1037,textX:1052,legendY:699.3,legendStep:12.25,yLabX:629,labelSize:12.8,row1:952,row2:967,off:[2,1,-2,-3,-2,-2,-2,-4]}
];

const svg=d3.select("#chart");
panels.forEach(p=>{
  const g=svg.append("g");
  const rows=p.groups.flat();
  const n=p.legend.length;
  // heights between successive upper edges; a short row's last edge is the top of the final legend band
  const heights=rows.map(r=>{
    const e=[];const last=r[r.length-1];
    for(let i=0;i<n;i++){const v=i<r.length?r[i]:last;e.push(i?Math.min(e[i-1],v):v);}
    const o={};for(let i=0;i<n;i++){o[i]=e[i]-(i<n-1?e[i+1]:0);}return o;});
  const keys=d3.range(n).reverse();
  const layers=d3.stack().keys(keys)(heights);
  const slots=[];p.groups.forEach((gr,gi)=>{gr.forEach((_,bi)=>slots.push("b"+gi+"-"+bi));if(gi<7)slots.push("gap"+gi);});
  const barIds=slots.filter(s=>s[0]==="b");
  const x=d3.scaleBand().domain(slots).range([p.x0,p.x1]).paddingInner(.2).paddingOuter(.1);
  const y=d3.scaleLinear().domain([0,100]).range([p.y0,p.y100]);
  const color=d3.scaleOrdinal().domain(d3.range(n)).range(p.colors);
  g.append("rect").attr("x",p.x0).attr("y",p.top).attr("width",p.x1-p.x0).attr("height",p.bottom-p.top).attr("fill","#fff").attr("stroke","#ababab").attr("stroke-width",1.4);
  g.selectAll(".layer").data(layers).join("g").attr("fill",d=>color(d.key)).selectAll("rect").data(d=>d).join("rect")
   .attr("x",(d,i)=>x(barIds[i])).attr("width",x.bandwidth()).attr("y",d=>y(d[1])).attr("height",d=>Math.max(0,y(d[0])-y(d[1])));
  const ax=g.append("g").attr("transform",`translate(${p.x0},0)`).call(d3.axisLeft(y).tickValues(yTicks).tickSize(3).tickPadding(2));
  ax.select(".domain").remove();
  ax.selectAll("line").attr("stroke","#555");
  ax.selectAll("text").attr("fill","#555").style("font","9px 'Liberation Sans'");
  g.append("text").attr("x",p.titleX).attr("y",p.titleY).attr("text-anchor","middle").attr("fill","#333").style("font","18px 'Liberation Sans'").text(p.title);
  g.append("text").attr("transform",`translate(${p.yLabX},${(p.y0+p.y100)/2+1}) rotate(-90)`).attr("text-anchor","middle").attr("fill","#333").style("font","10.5px 'Liberation Sans'").text("Relative abundance (%)");
  groupNames.forEach((name,i)=>{
    g.append("text").attr("x",x("b"+i+"-0")+p.off[i]).attr("y",i%2?p.row2:p.row1).attr("fill","#111")
     .style("font",`italic bold ${p.labelSize}px 'Liberation Serif'`).text(name);
  });
  const leg=g.selectAll(".leg").data(p.legend).join("g").attr("transform",(d,i)=>`translate(0,${p.legendY+i*p.legendStep})`);
  leg.append("rect").attr("x",p.swatchX).attr("y",-5.6).attr("width",11.2).attr("height",11.2).attr("fill",(d,i)=>color(i));
  leg.append("text").attr("x",p.textX).attr("y",4).attr("fill","#111").style("font","bold 12.4px 'Liberation Serif'").style("letter-spacing",".25px").text(d=>d);
});
</script></body></html>
